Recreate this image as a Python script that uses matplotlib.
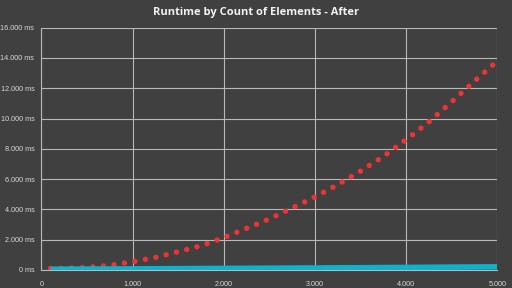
import matplotlib
matplotlib.use("Agg")
import matplotlib.pyplot as plt
from matplotlib.ticker import FuncFormatter

# Data
before_x = [100, 250, 500, 750, 1000, 1250, 1500, 1750, 2000, 2250, 2500,
            2750, 3000, 3250, 3500, 3750, 4000, 4250, 4500, 4750, 5000]
before_ms = [100, 115, 170, 310, 540, 830, 1200, 1600, 2130, 2750, 3370,
             4090, 4820, 5630, 6530, 7490, 8600, 9780, 11100, 12470, 13800]

after_x = [100, 1000, 2000, 3000, 4000, 5000]
after_ms = [50, 75, 105, 135, 170, 210]

x_ticks = [0, 1000, 2000, 3000, 4000, 5000]
y_ticks = [0, 2000, 4000, 6000, 8000, 10000, 12000, 14000, 16000]
title = "Runtime by Count of Elements - After"

BG = "#404040"
GRID = "#b8b8b8"
TXT = "#d9d9d9"

plt.rcParams['font.family'] = ['Liberation Sans', 'DejaVu Sans']

fig = plt.figure(figsize=(5.12, 2.88), dpi=100, facecolor=BG)
ax = fig.add_axes([41.3/512, 18/288, (497.3-41.3)/512, (270-27.6)/288])
ax.set_facecolor(BG)

ax.plot(before_x, before_ms, color="#ec3434", linewidth=3.9,
        linestyle=(0, (0.01, 1.95)), dash_capstyle='round', zorder=3)
ax.plot(after_x, after_ms, color="#0fb2ca", linewidth=4.0,
        solid_capstyle='butt', zorder=4)

ax.set_xlim(0, 5000)
ax.set_ylim(0, 16000)
ax.set_xticks(x_ticks)
ax.set_yticks(y_ticks)

def thousands(v):
    return f"{int(v):,}".replace(",", ".")

ax.xaxis.set_major_formatter(FuncFormatter(lambda v, p: thousands(v)))
ax.yaxis.set_major_formatter(FuncFormatter(lambda v, p: thousands(v) + " ms"))

ax.tick_params(axis='both', length=0, colors=TXT, labelsize=5.2)
ax.tick_params(axis='x', pad=8)
ax.tick_params(axis='y', pad=5)

ax.grid(True, color=GRID, linewidth=0.8, zorder=0)
ax.set_axisbelow(True)
for s in ['top', 'right']:
    ax.spines[s].set_visible(False)
for s in ['left', 'bottom']:
    ax.spines[s].set_color(GRID)
    ax.spines[s].set_linewidth(0.8)

fig.text(0.5, 1 - 12/288, title, ha='center', va='center',
         color='#f2f2f2', fontsize=8, fontweight='bold',
         family=['Open Sans', 'DejaVu Sans'])

fig.savefig("out.png", dpi=100, facecolor=BG)
